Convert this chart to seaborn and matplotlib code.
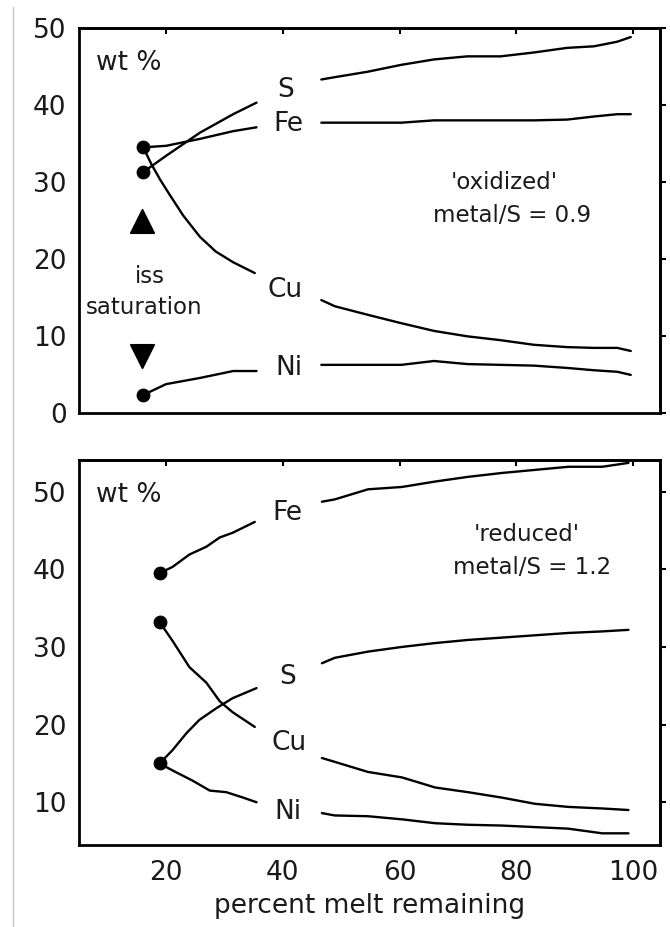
import matplotlib
matplotlib.use("Agg")
import matplotlib.pyplot as plt
import matplotlib.lines as mlines
import numpy as np
import pandas as pd
import seaborn as sns

sns.set_theme(style="white")
plt.rcParams['font.family'] = ['DejaVu Sans']
plt.rcParams['text.color'] = '#1a1a1a'
plt.rcParams['axes.labelcolor'] = '#1a1a1a'
plt.rcParams['xtick.color'] = '#1a1a1a'
plt.rcParams['ytick.color'] = '#1a1a1a'

# ---- 'oxidized' run (top panel), metal/S = 0.9 ----
ox_x_left = [16.1, 20, 25.8, 31.5, 35.5]
ox_S_left = [31.3, 33.4, 36.4, 38.8, 40.3]
ox_Fe_left = [34.5, 34.7, 35.6, 36.6, 37.1]
ox_Ni_left = [2.4, 3.8, 4.6, 5.5, 5.5]
ox_Cu_x_left = [16.1, 17.5, 19.0, 20.5, 22.9, 25.8, 28.5, 31.5, 35.2]
ox_Cu_left = [34.5, 32.3, 30.3, 28.5, 25.7, 22.9, 21.0, 19.6, 18.2]

ox_x_right = [46.6, 48.9, 54.5, 60.3, 65.9, 71.6, 77.3, 83.0, 88.7, 93.3, 97.3, 99.6]
ox_S_right = [43.3, 43.6, 44.3, 45.2, 45.9, 46.3, 46.3, 46.8, 47.4, 47.6, 48.2, 48.8]
ox_Fe_right = [37.7, 37.7, 37.7, 37.7, 38.0, 38.0, 38.0, 38.0, 38.1, 38.5, 38.8, 38.8]
ox_Cu_right = [14.7, 13.9, 12.8, 11.7, 10.7, 10.0, 9.5, 8.9, 8.6, 8.5, 8.5, 8.1]
ox_Ni_right = [6.3, 6.3, 6.3, 6.3, 6.8, 6.4, 6.3, 6.2, 5.9, 5.6, 5.4, 5.0]

ox_dot_x = [16.1, 16.1, 16.1]
ox_dot_y = [34.5, 31.3, 2.4]

# ---- 'reduced' run (bottom panel), metal/S = 1.2 ----
rd_x_left = [18.9, 21.1, 24.0, 26.9, 29.2, 31.4, 35.2]
rd_Fe_left = [39.5, 40.3, 41.9, 42.9, 44.1, 44.7, 46.1]
rd_Cu_left = [33.2, 30.8, 27.4, 25.4, 23.0, 21.6, 19.7]
rd_S_x_left = [18.9, 21.1, 23.5, 25.7, 28.6, 31.4, 35.5]
rd_S_left = [15.0, 16.7, 18.9, 20.6, 22.1, 23.4, 24.7]
rd_Ni_x_left = [18.9, 21.1, 24.5, 27.5, 30.3, 33.2, 35.5]
rd_Ni_left = [15.0, 14.1, 12.8, 11.5, 11.3, 10.6, 10.0]

rd_x_right = [46.7, 48.9, 54.6, 60.4, 66.1, 71.7, 77.5, 83.2, 88.9, 94.7, 99.2]
rd_Fe_right = [48.7, 49.0, 50.3, 50.6, 51.3, 51.9, 52.4, 52.8, 53.2, 53.2, 53.7]
rd_S_right = [27.9, 28.6, 29.4, 30.0, 30.5, 30.9, 31.2, 31.5, 31.8, 32.0, 32.2]
rd_Cu_right = [15.7, 15.2, 13.9, 13.2, 11.9, 11.3, 10.6, 9.8, 9.4, 9.2, 9.0]
rd_Ni_right = [8.6, 8.3, 8.2, 7.8, 7.3, 7.1, 7.0, 6.8, 6.6, 6.0, 6.0]

rd_dot_x = [18.9, 18.9, 18.9]
rd_dot_y = [39.5, 33.2, 15.0]

x_ticks = [20, 40, 60, 80, 100]
top_y_ticks = [0, 10, 20, 30, 40, 50]
bot_y_ticks = [10, 20, 30, 40, 50]


def long_form(segments):
    rows = []
    for seg, (xs, ys) in enumerate(segments):
        for xv, yv in zip(xs, ys):
            rows.append({"x": xv, "y": yv, "seg": seg})
    return pd.DataFrame(rows)


ox_df = long_form([
    (ox_x_left, ox_S_left), (ox_x_left, ox_Fe_left), (ox_Cu_x_left, ox_Cu_left),
    (ox_x_left, ox_Ni_left), (ox_x_right, ox_S_right), (ox_x_right, ox_Fe_right),
    (ox_x_right, ox_Cu_right), (ox_x_right, ox_Ni_right),
])
rd_df = long_form([
    (rd_x_left, rd_Fe_left), (rd_x_left, rd_Cu_left), (rd_S_x_left, rd_S_left),
    (rd_Ni_x_left, rd_Ni_left), (rd_x_right, rd_Fe_right), (rd_x_right, rd_S_right),
    (rd_x_right, rd_Cu_right), (rd_x_right, rd_Ni_right),
])

fig = plt.figure(figsize=(6.7, 9.27), dpi=100)
ax1 = fig.add_axes([0.118, 0.554, 0.867, 0.416])
ax2 = fig.add_axes([0.118, 0.0885, 0.867, 0.4155])

fs_tick = 19
fs_lab = 19
fs_note = 16.5

for ax, df, dx, dy in [(ax1, ox_df, ox_dot_x, ox_dot_y), (ax2, rd_df, rd_dot_x, rd_dot_y)]:
    sns.lineplot(ax=ax, data=df, x="x", y="y", units="seg", estimator=None,
                 sort=False, color="black", lw=1.7)
    sns.scatterplot(ax=ax, x=dx, y=dy, color="black", s=85, edgecolor="black",
                    zorder=5)
    ax.set_xlim(5.1, 104.6)
    ax.set_xticks(x_ticks)
    ax.set_xlabel("")
    ax.set_ylabel("")
    for sp in ax.spines.values():
        sp.set_linewidth(2.0)
        sp.set_color("black")
    ax.tick_params(axis="x", direction="out", length=4, width=1.5,
                   labelsize=fs_tick, pad=7, color="black")
    ax.tick_params(axis="y", direction="in", length=4, width=1.5,
                   labelsize=fs_tick, pad=9, color="black")
    top = ax.secondary_xaxis("top")
    top.set_xticks(x_ticks)
    top.tick_params(direction="in", length=4, width=1.5, labeltop=False,
                    color="black")
    top.spines["top"].set_linewidth(2.0)
    right = ax.secondary_yaxis("right")
    right.tick_params(direction="out", length=4, width=1.5, labelright=False,
                      color="black")
    right.spines["right"].set_linewidth(2.0)

ax1.set_ylim(0, 50)
ax1.set_yticks(top_y_ticks)
ax1.tick_params(axis="x", labelbottom=False)
ax1.text(8.0, 45.5, "wt %", fontsize=fs_lab, va="center", ha="left")

ax2.set_ylim(4.5, 54.1)
ax2.set_yticks(bot_y_ticks)
ax2.text(8.0, 49.6, "wt %", fontsize=fs_lab, va="center", ha="left")

# element labels at the line gaps
for name, xv, yv in [("S", 40.4, 42.0), ("Fe", 41.0, 37.5), ("Cu", 40.4, 16.0), ("Ni", 41.0, 5.9)]:
    ax1.text(xv, yv, name, fontsize=fs_lab, ha="center", va="center")
for name, xv, yv in [("Fe", 40.8, 47.3), ("S", 40.9, 26.1), ("Cu", 41.0, 17.6), ("Ni", 40.8, 8.7)]:
    ax2.text(xv, yv, name, fontsize=fs_lab, ha="center", va="center")

# iss saturation markers
sns.scatterplot(ax=ax1, x=[15.9], y=[24.9], marker="^", s=280, color="black",
                edgecolor="black")
sns.scatterplot(ax=ax1, x=[15.9], y=[7.4], marker="v", s=280, color="black",
                edgecolor="black")
ax1.text(17.2, 17.8, "iss", fontsize=fs_note, ha="center", va="center")
ax1.text(16.3, 13.7, "saturation", fontsize=fs_note, ha="center", va="center")

ax1.text(78.0, 30.0, "'oxidized'", fontsize=fs_note, ha="center", va="center")
ax1.text(79.2, 25.6, "metal/S = 0.9", fontsize=fs_note, ha="center", va="center")
ax2.text(81.8, 44.5, "'reduced'", fontsize=fs_note, ha="center", va="center")
ax2.text(82.7, 40.2, "metal/S = 1.2", fontsize=fs_note, ha="center", va="center")

ax2.set_xlabel("percent melt remaining", fontsize=fs_tick, labelpad=5)

# thin scan border on the left
fig.add_artist(mlines.Line2D([0.0194, 0.0194], [0.0, 0.992], color="#c4c4c4", lw=1.0))

fig.savefig("out.png", dpi=100)
